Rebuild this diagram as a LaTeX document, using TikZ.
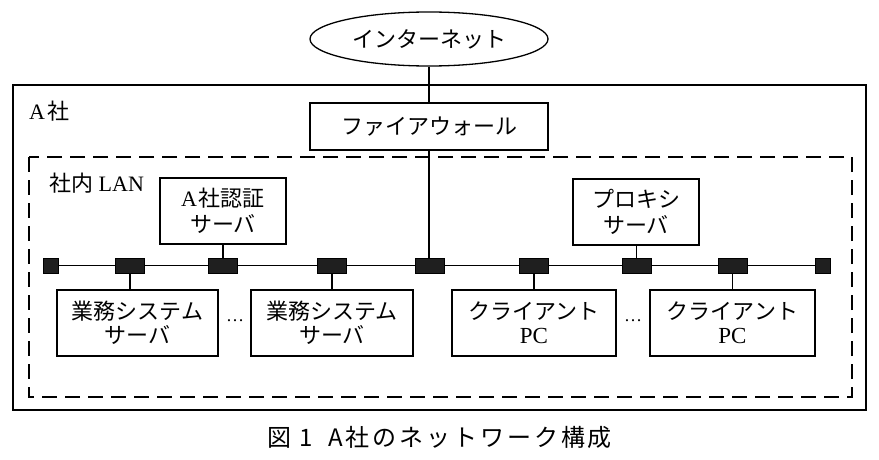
\documentclass[tikz,border=0pt]{standalone}
\usepackage{fontspec}
\setmainfont{Liberation Serif}
\newfontfamily\cjk{Noto Sans CJK JP}
\newfontfamily\capfont[LetterSpace=12]{Noto Sans CJK JP}
\usetikzlibrary{shapes.geometric}
\tikzset{
  box/.style={draw, line width=1.3pt, rectangle, inner sep=0pt, align=center,
    font=\fontsize{22}{26}\selectfont},
  portbig/.style={draw, fill=black!88, rectangle, minimum width=29pt, minimum height=15pt, inner sep=0pt, line width=0.5pt},
  portend/.style={draw, fill=black!88, rectangle, minimum width=15pt, minimum height=15pt, inner sep=0pt, line width=0.5pt},
  wire/.style={line width=1.3pt},
  lbl/.style={font=\fontsize{22}{26}\selectfont, inner sep=0pt, anchor=west}
}
\begin{document}
\begin{tikzpicture}[x=1pt,y=-1pt]
\useasboundingbox[fill=white] (0,0) rectangle (879,460);
% outer and LAN frames
\draw[line width=1.6pt] (13,85) rectangle (866,410);
\draw[line width=1.4pt, dash pattern=on 15pt off 8pt] (29,157) rectangle (852,397);
\node[lbl] (lblA) at (29,111) {A\kern2pt{\cjk 社}};
\node[lbl] (lblLAN) at (49,183) {{\cjk 社内} LAN};
% top
\node[box, ellipse, minimum width=238pt, minimum height=54pt] (inet) at (429,39) {\cjk インターネット};
\node[box, minimum width=238pt, minimum height=47pt] (fw) at (429,126.5) {\cjk ファイアウォール};
% servers on top
\node[box, minimum width=126pt, minimum height=66pt] (auth) at (223,211) {A\kern2pt{\cjk 社認証}\\{\cjk サーバ}};
\node[box, minimum width=126pt, minimum height=66pt] (proxy) at (636,212) {\cjk プロキシ\\\cjk サーバ};
% bus
\node[portend] (eL) at (50.5,265.5) {};
\node[portend] (eR) at (822.5,265.5) {};
\node[portbig] (p1) at (130,265.5) {};
\node[portbig] (p2) at (223,265.5) {};
\node[portbig] (p3) at (332,265.5) {};
\node[portbig] (p4) at (430,265.5) {};
\node[portbig] (p5) at (534,265.5) {};
\node[portbig] (p6) at (636.5,265.5) {};
\node[portbig] (p7) at (732.5,265.5) {};
% bottom boxes
\node[box, minimum width=161pt, minimum height=66pt] (biz1) at (137.5,323) {\cjk 業務システム\\[-2pt]\cjk サーバ};
\node[box, minimum width=162pt, minimum height=66pt] (biz2) at (332,323) {\cjk 業務システム\\[-2pt]\cjk サーバ};
\node[box, minimum width=164pt, minimum height=66pt] (cl1) at (534,323) {{\cjk クライアント}\\[-2pt]\fontsize{23}{26}\selectfont PC};
\node[box, minimum width=165pt, minimum height=66pt] (cl2) at (732.5,323) {{\cjk クライアント}\\[-2pt]\fontsize{23}{26}\selectfont PC};
\node[font=\fontsize{18}{20}\selectfont] (dots1) at (235,321) {\dots};
\node[font=\fontsize{18}{20}\selectfont] (dots2) at (633,321) {\dots};
% wires
\draw[wire] (eL.east) -- (p1.west) (p1.east) -- (p2.west) (p2.east) -- (p3.west)
  (p3.east) -- (p4.west) (p4.east) -- (p5.west) (p5.east) -- (p6.west)
  (p6.east) -- (p7.west) (p7.east) -- (eR.west);
\draw[wire] (inet.south) -- (fw.north);
\draw[wire] (fw.south) -- (fw.south |- p4.north);
\draw[wire] (auth.south) -- (p2.north);
\draw[wire] (proxy.south -| p6.north) -- (p6.north);
\draw[wire] (p1.south) -- (p1.south |- biz1.north);
\draw[wire] (p3.south) -- (p3.south |- biz2.north);
\draw[wire] (p5.south) -- (p5.south |- cl1.north);
\draw[wire] (p7.south) -- (p7.south |- cl2.north);
% caption
\node[font=\fontsize{24}{26}\selectfont\capfont, inner sep=0pt, anchor=west] (cap) at (267,437) {図\kern8pt 1\kern16pt A社のネットワーク構成};
\end{tikzpicture}
\end{document}
